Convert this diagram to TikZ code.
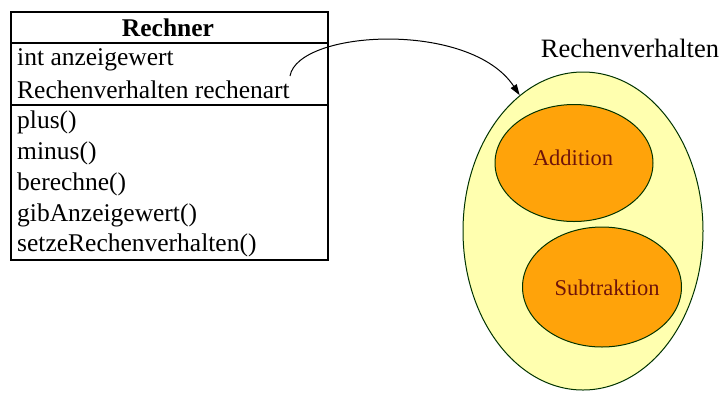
\documentclass[tikz,border=0pt]{standalone}
\usepackage{fontspec}
\setmainfont{Liberation Serif}
\usetikzlibrary{shapes.geometric,arrows.meta}
\definecolor{paleyellow}{RGB}{255,255,175}
\definecolor{stateorange}{RGB}{255,163,10}
\definecolor{darkred}{RGB}{110,20,10}
\tikzset{
  member/.style={anchor=west,inner sep=0pt,font=\fontsize{25.5}{30}\selectfont},
  blob/.style={ellipse,draw=black!80!green,line width=1pt,inner sep=0pt},
  statetext/.style={text=darkred,font=\fontsize{22.5}{26}\selectfont}
}
\begin{document}
\begin{tikzpicture}[x=1pt,y=-1pt]
\useasboundingbox (0,0) rectangle (723,392);
% class box with its two dividers
\draw[line width=1.1pt] (11,12) rectangle (328,260);
\draw[line width=1.1pt] (11,43) -- (328,43);
\draw[line width=1.1pt] (11,105) -- (328,105);
\node[font=\bfseries\fontsize{25.5}{30}\selectfont,inner sep=0pt] (title) at (168,28) {Rechner};
\node[member] (a1) at (17,60) {int anzeigewert};
\node[member] (a2) at (17,90) {Rechenverhalten rechenart};
\node[member] (m1) at (17,122) {plus()};
\node[member] (m2) at (17,153) {minus()};
\node[member] (m3) at (17,184) {berechne()};
\node[member] (m4) at (17,215) {gibAnzeigewert()};
\node[member] (m5) at (17,245) {setzeRechenverhalten()};
% the strategy family
\node[font=\fontsize{26.5}{30}\selectfont,inner sep=0pt] (rvlabel) at (630,48) {Rechenverhalten};
\node[blob,fill=paleyellow,minimum width=240pt,minimum height=318pt] (rv) at (583,231) {};
\node[blob,fill=stateorange,minimum width=158pt,minimum height=117pt] (add) at (574,163) {};
\node[statetext] at (573,158) {Addition};
\node[blob,fill=stateorange,minimum width=159pt,minimum height=120pt] (sub) at (602,287) {};
\node[statetext] at (607,288) {Subtraktion};
% reference from the attribute to the family
\coordinate (ref) at (290,76);
\draw[line width=1pt,-{Triangle[length=11pt,width=7pt]}] (ref) .. controls (298,30) and (470,20) .. (rv.115);
\end{tikzpicture}
\end{document}
